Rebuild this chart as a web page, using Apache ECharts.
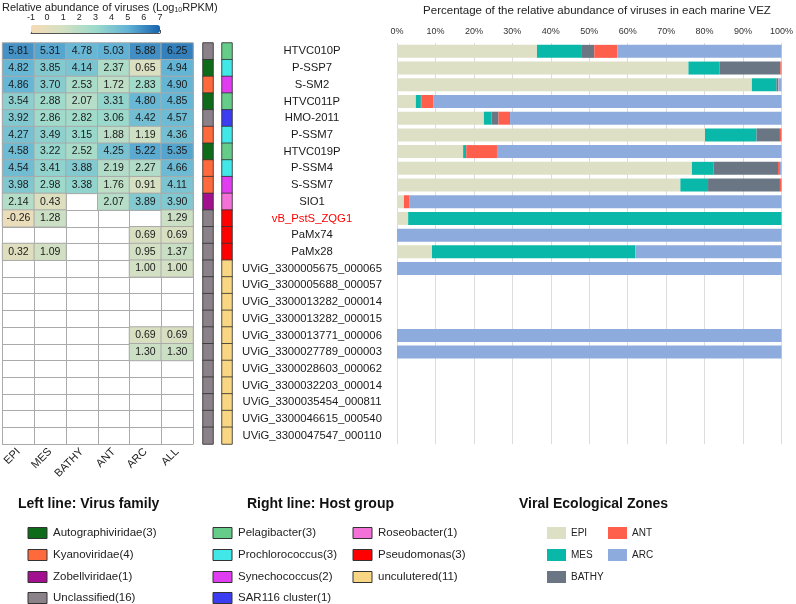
<!DOCTYPE html>
<html>
<head>
<meta charset="utf-8">
<script src="https://cdn.jsdelivr.net/npm/echarts@6/dist/echarts.min.js"></script>
<style>
  html, body { margin: 0; padding: 0; background: #fff; }
  #main { width: 796px; height: 604px; }
</style>
</head>
<body>
<div id="main"></div>
<script>
// --- data ---
const viruses = ['HTVC010P', 'P-SSP7', 'S-SM2', 'HTVC011P', 'HMO-2011', 'P-SSM7', 'HTVC019P', 'P-SSM4',
    'S-SSM7', 'SIO1', 'vB_PstS_ZQG1', 'PaMx74', 'PaMx28',
    'UViG_3300005675_000065', 'UViG_3300005688_000057', 'UViG_3300013282_000014', 'UViG_3300013282_000015',
    'UViG_3300013771_000006', 'UViG_3300027789_000003', 'UViG_3300028603_000062', 'UViG_3300032203_000014',
    'UViG_3300035454_000811', 'UViG_3300046615_000540', 'UViG_3300047547_000110'];
const zones = ['EPI', 'MES', 'BATHY', 'ANT', 'ARC', 'ALL'];

// log10 RPKM, one array per zone column (null = no value)
const logEPI   = [5.81, 4.82, 4.86, 3.54, 3.92, 4.27, 4.58, 4.54, 3.98, 2.14, -0.26, null, 0.32, null, null, null, null, null, null, null, null, null, null, null];
const logMES   = [5.31, 3.85, 3.70, 2.88, 2.86, 3.49, 3.22, 3.41, 2.98, 0.43, 1.28, null, 1.09, null, null, null, null, null, null, null, null, null, null, null];
const logBATHY = [4.78, 4.14, 2.53, 2.07, 2.82, 3.15, 2.52, 3.88, 3.38, null, null, null, null, null, null, null, null, null, null, null, null, null, null, null];
const logANT   = [5.03, 2.37, 1.72, 3.31, 3.06, 1.88, 4.25, 2.19, 1.76, 2.07, null, null, null, null, null, null, null, null, null, null, null, null, null, null];
const logARC   = [5.88, 0.65, 2.83, 4.80, 4.42, 1.19, 5.22, 2.27, 0.91, 3.89, null, 0.69, 0.95, 1.00, null, null, null, 0.69, 1.30, null, null, null, null, null];
const logALL   = [6.25, 4.94, 4.90, 4.85, 4.57, 4.36, 5.35, 4.66, 4.11, 3.90, 1.29, 0.69, 1.37, 1.00, null, null, null, 0.69, 1.30, null, null, null, null, null];

// percentage of relative abundance in each VEZ
const pctEPI   = [36.4, 75.8, 92.3, 4.9, 22.6, 80.1, 17.2, 76.7, 73.7, 1.8, 2.9, 0, 9.1, 0, null, null, null, 0, 0, null, null, null, null, null];
const pctMES   = [11.5, 8.1, 6.4, 1.3, 2.0, 13.4, 0.8, 5.6, 7.2, 0, 97.1, 0, 52.9, 0, null, null, null, 0, 0, null, null, null, null, null];
const pctBATHY = [3.4, 15.8, 0.4, 0.2, 1.8, 6.1, 0, 16.8, 18.7, 0, 0, 0, 0, 0, null, null, null, 0, 0, null, null, null, null, null];
const pctANT   = [6.0, 0.3, 0.1, 3.0, 3.0, 0.4, 8.0, 0.5, 0.4, 1.5, 0, 0, 0, 0, null, null, null, 0, 0, null, null, null, null, null];
const pctARC   = [42.7, 0, 0.8, 90.6, 70.6, 0, 74.0, 0.4, 0, 96.7, 0, 100, 38.0, 100, null, null, null, 100, 100, null, null, null, null, null];

const familyNames = ['Autographiviridae(3)', 'Kyanoviridae(4)', 'Zobellviridae(1)', 'Unclassified(16)'];
const familyColors = ['#0d6b1a', '#ff6a3d', '#a3108f', '#8a8189'];
const virusFamily = [3, 0, 1, 0, 3, 1, 0, 1, 1, 2, 3, 3, 3, 3, 3, 3, 3, 3, 3, 3, 3, 3, 3, 3];

const hostNames = ['Pelagibacter(3)', 'Prochlorococcus(3)', 'Synechococcus(2)', 'SAR116 cluster(1)',
    'Roseobacter(1)', 'Pseudomonas(3)', 'unculutered(11)'];
const hostColors = ['#66cc8a', '#42e8e8', '#e03cf0', '#3c3cf0', '#f472d8', '#ff0000', '#f8d684'];
const virusHost = [0, 1, 2, 0, 3, 1, 0, 1, 2, 4, 5, 5, 5, 6, 6, 6, 6, 6, 6, 6, 6, 6, 6, 6];

const zoneColors = ['#dee0c6', '#0ab8a9', '#6b7684', '#fe5e4c', '#8eabdd'];
const colorbarTicks = [-1, 7];

// --- build ---
const FONT = "'Liberation Sans', Arial, sans-serif";
const logCols = [logEPI, logMES, logBATHY, logANT, logARC, logALL];
const heatData = [];
logCols.forEach((col, x) => col.forEach((v, y) => { if (v !== null) heatData.push([x, y, v]); }));

const famData = virusFamily.map((f, y) => ({ value: [0, y, 1], itemStyle: { color: familyColors[f] } }));
const hostData = virusHost.map((h, y) => ({ value: [0, y, 1], itemStyle: { color: hostColors[h] } }));

const TOP = 43, H = 401;

const chart = echarts.init(document.getElementById('main'));

const graphics = [];
function legendBlock(title, tx, names, colors, cols) {
    graphics.push({ type: 'text', left: tx, top: 497, style: { text: title, font: 'bold 14px ' + FONT, fill: '#111' } });
    names.forEach((n, i) => {
        const c = cols[i];
        graphics.push({ type: 'rect', shape: { x: c.x, y: c.y - 5.5, width: 19, height: 11 },
            style: { fill: colors[i], stroke: '#333', lineWidth: 1 } });
        graphics.push({ type: 'text', x: c.x + 25, y: c.y, style: { text: n, font: '11.5px ' + FONT, fill: '#222', textVerticalAlign: 'middle' } });
    });
}
const rowsY = [533, 555, 577, 598];
legendBlock('Left line: Virus family', 18, familyNames, familyColors, rowsY.map(y => ({ x: 28, y })));
legendBlock('Right line: Host group', 247, hostNames, hostColors,
    [{ x: 213, y: 533 }, { x: 213, y: 555 }, { x: 213, y: 577 }, { x: 213, y: 598 },
     { x: 353, y: 533 }, { x: 353, y: 555 }, { x: 353, y: 577 }]);
graphics.push({ type: 'text', left: 519, top: 497, style: { text: 'Viral Ecological Zones', font: 'bold 14px ' + FONT, fill: '#111' } });
graphics.push({ type: 'text', left: 2, top: 2, style: { text: 'Relative abundance of viruses (Log{sub|10}RPKM)',
    font: '11px ' + FONT, fill: '#222', rich: { sub: { fontSize: 7, verticalAlign: 'bottom', padding: [5, 0, 0, 0] } } } });

const legendText = { fontSize: 10, color: '#222', fontFamily: FONT };

chart.setOption({
    textStyle: { fontFamily: FONT },
    animation: false,
    title: {
        text: 'Percentage of the relative abundance of viruses in each marine VEZ',
        left: 592, top: 0, textAlign: 'center',
        textStyle: { fontSize: 11.5, fontWeight: 'normal', color: '#222' }
    },
    legend: [
        { data: zones.slice(0, 3), orient: 'vertical', left: 547, top: 527, padding: 0, itemWidth: 19, itemHeight: 12, itemGap: 10,
          icon: 'rect', textStyle: legendText, selectedMode: false },
        { data: zones.slice(3, 5), orient: 'vertical', left: 608, top: 527, padding: 0, itemWidth: 19, itemHeight: 12, itemGap: 10,
          icon: 'rect', textStyle: legendText, selectedMode: false }
    ],
    visualMap: {
        type: 'continuous', seriesIndex: 0, min: -1, max: 7, orient: 'horizontal',
        left: 31, top: 25, itemWidth: 8, itemHeight: 129, padding: 0, text: null, showLabel: false,
        calculable: false, hoverLink: false,
        inRange: { color: ['#f6dbb4', '#d3e0c3', '#9cdacb', '#62b3d6', '#1762ae'] }
    },
    grid: [
        { left: 1, top: TOP, width: 192, height: H },        // heatmap
        { left: 203, top: TOP, width: 10, height: H, show: true, borderColor: '#aaa', borderWidth: 1 },  // family strip
        { left: 222, top: TOP, width: 10, height: H, show: true, borderColor: '#aaa', borderWidth: 1 },  // host strip
        { left: 397, top: TOP, width: 390, height: H },      // bars
        { left: 31, top: 25, width: 129, height: 8 }         // colorbar ticks
    ],
    xAxis: [
        { gridIndex: 0, type: 'category', data: zones, position: 'bottom',
          axisLine: { lineStyle: { color: '#aaa' } }, axisTick: { show: false },
          splitLine: { show: true, interval: 0, lineStyle: { color: '#aaa' } },
          axisLabel: { rotate: 45, fontSize: 11, color: '#222', margin: 6, interval: 0 } },
        { gridIndex: 1, type: 'category', data: ['f'], show: false },
        { gridIndex: 2, type: 'category', data: ['h'], show: false },
        { gridIndex: 3, type: 'value', min: 0, max: 100, interval: 10, position: 'top',
          axisLine: { show: false }, axisTick: { show: false },
          splitLine: { lineStyle: { color: '#dcdcdc' } },
          axisLabel: { formatter: '{value}%', fontSize: 9, color: '#333', margin: 7 } },
        { gridIndex: 4, type: 'value', min: colorbarTicks[0], max: colorbarTicks[1], interval: 1, position: 'top',
          axisLine: { show: true, lineStyle: { color: '#555' } },
          axisTick: { show: true, length: 3, lineStyle: { color: '#555' } },
          splitLine: { show: false },
          axisLabel: { fontSize: 9, color: '#222', margin: 3 } }
    ],
    yAxis: [
        { gridIndex: 0, type: 'category', data: viruses, inverse: true,
          axisLine: { lineStyle: { color: '#aaa' } }, axisTick: { show: false }, axisLabel: { show: false },
          splitLine: { show: true, interval: 0, lineStyle: { color: '#aaa' } } },
        { gridIndex: 1, type: 'category', data: viruses, inverse: true, show: false },
        { gridIndex: 2, type: 'category', data: viruses, inverse: true, show: false },
        { gridIndex: 3, type: 'category', data: viruses, inverse: true,
          axisLine: { show: false }, axisTick: { show: false },
          axisLabel: { interval: 0, align: 'center', margin: 85, fontSize: 11.3,
                       color: v => v === 'vB_PstS_ZQG1' ? '#ff0000' : '#1a1a1a' } },
        { gridIndex: 4, type: 'value', show: false }
    ],
    graphic: graphics,
    series: [
        { type: 'heatmap', xAxisIndex: 0, yAxisIndex: 0, data: heatData,
          itemStyle: { borderColor: '#aaa', borderWidth: 1 },
          label: { show: true, fontSize: 10.5, color: '#1a1a1a', formatter: p => p.value[2].toFixed(2) } },
        { type: 'heatmap', xAxisIndex: 1, yAxisIndex: 1, data: famData,
          itemStyle: { borderColor: '#333', borderWidth: 0.8 } },
        { type: 'heatmap', xAxisIndex: 2, yAxisIndex: 2, data: hostData,
          itemStyle: { borderColor: '#333', borderWidth: 0.8 } },
        ...[pctEPI, pctMES, pctBATHY, pctANT, pctARC].map((d, i) => ({
            name: zones[i], type: 'bar', stack: 'vez', xAxisIndex: 3, yAxisIndex: 3,
            data: d, barWidth: 13, itemStyle: { color: zoneColors[i] }
        }))
    ]
});
</script>
</body>
</html>
